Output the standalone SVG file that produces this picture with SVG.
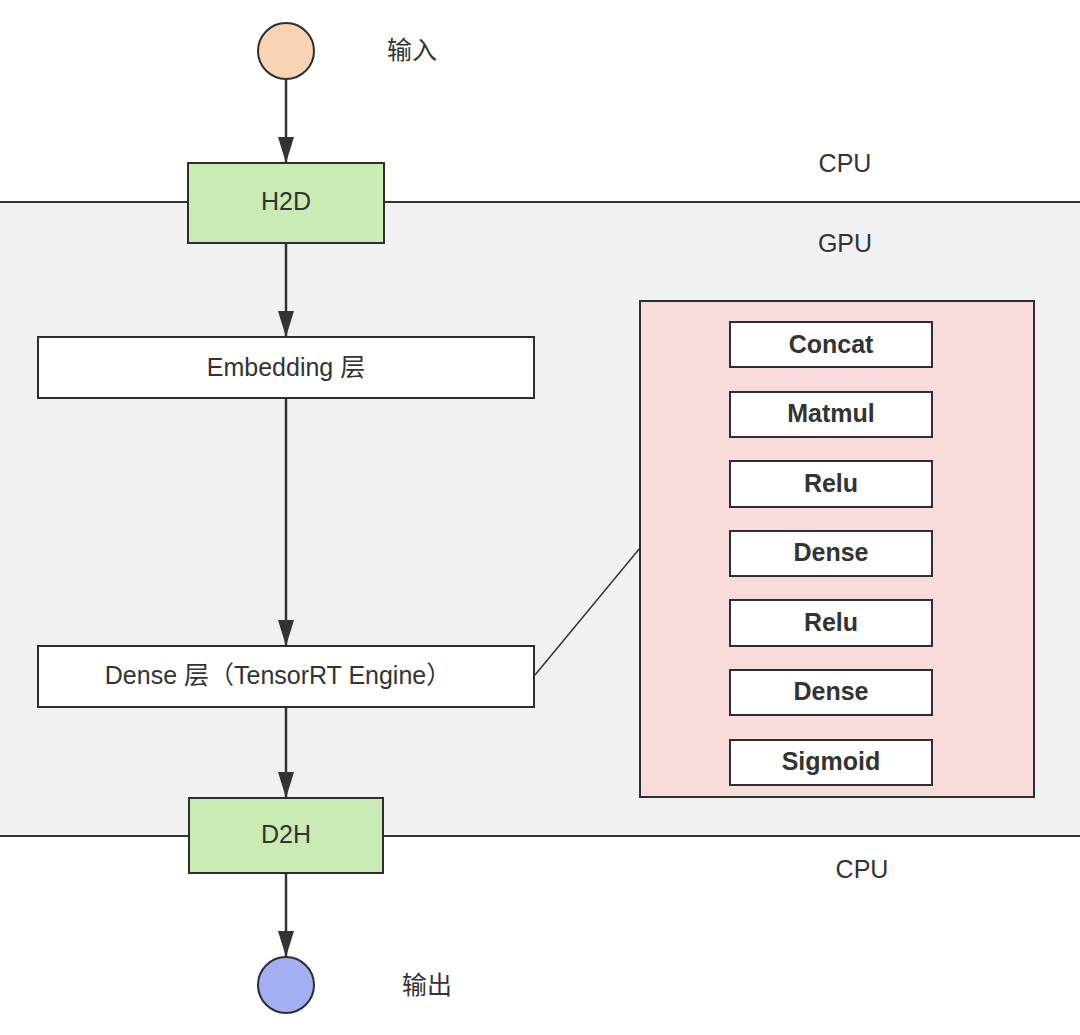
<svg xmlns="http://www.w3.org/2000/svg" width="1080" height="1035" viewBox="0 0 1080 1035">
<style>
.box{stroke:#2b2f33;stroke-width:2}
.t{font-family:"Liberation Sans",Arial,"Noto Sans CJK SC",sans-serif;font-size:25px;fill:#333;text-anchor:middle;dominant-baseline:central}
.b{font-weight:bold;font-size:25px}
.edge{stroke:#333;stroke-width:2.5;fill:none}
</style>
<defs>
<marker id="ah" viewBox="0 0 26 16" refX="26" refY="8" markerWidth="26" markerHeight="16" markerUnits="userSpaceOnUse" orient="auto">
<path d="M0,0 L26,8 L0,16 z" fill="#333"/>
</marker>
</defs>
<rect width="1080" height="1035" fill="#fff"/>
<g id="gpu-region">
<rect x="-5" y="202" width="1090" height="634" fill="#f1f1f1"/>
<line x1="0" y1="202" x2="1080" y2="202" stroke="#333" stroke-width="2"/>
<line x1="0" y1="836" x2="1080" y2="836" stroke="#333" stroke-width="2"/>
</g>
<g id="labels">
<text class="t" x="412" y="50">输入</text>
<text class="t" x="845" y="163">CPU</text>
<text class="t" x="845" y="243">GPU</text>
<text class="t" x="862" y="869">CPU</text>
<text class="t" x="427" y="985">输出</text>
</g>
<g id="connectors">
<line class="edge" x1="286" y1="79" x2="286" y2="163" marker-end="url(#ah)"/>
<line class="edge" x1="286" y1="243" x2="286" y2="337" marker-end="url(#ah)"/>
<line class="edge" x1="286" y1="398" x2="286" y2="646" marker-end="url(#ah)"/>
<line class="edge" x1="286" y1="707" x2="286" y2="798" marker-end="url(#ah)"/>
<line class="edge" x1="286" y1="873" x2="286" y2="957" marker-end="url(#ah)"/>
<line x1="535" y1="675" x2="640" y2="548" stroke="#333" stroke-width="1.5"/>
</g>
<g id="input"><circle class="box" cx="286" cy="51" r="28" fill="#f8d4b4"/></g>
<g id="h2d"><rect class="box" x="188" y="163" width="196" height="80" fill="#c9ecb4"/><text class="t" x="286" y="201">H2D</text></g>
<g id="embedding"><rect class="box" x="38" y="337" width="496" height="61" fill="#fff"/><text class="t" x="286" y="367">Embedding 层</text></g>
<g id="dense"><rect class="box" x="38" y="646" width="496" height="61" fill="#fff"/><text class="t" x="278" y="675">Dense 层（TensorRT Engine）</text></g>
<g id="d2h"><rect class="box" x="189" y="798" width="194" height="75" fill="#c9ecb4"/><text class="t" x="286" y="834">D2H</text></g>
<g id="output"><circle class="box" cx="286" cy="985" r="28" fill="#a4aef2"/></g>
<g id="trt-engine">
<rect class="box" x="640" y="301" width="394" height="496" fill="#f9dbda"/>
</g>
<g id="op-concat"><rect class="box" x="730" y="322" width="202" height="45" fill="#fff"/><text class="t b" x="831" y="344">Concat</text></g>
<g id="op-matmul"><rect class="box" x="730" y="392" width="202" height="45" fill="#fff"/><text class="t b" x="831" y="413">Matmul</text></g>
<g id="op-relu1"><rect class="box" x="730" y="461" width="202" height="46" fill="#fff"/><text class="t b" x="831" y="483">Relu</text></g>
<g id="op-dense1"><rect class="box" x="730" y="531" width="202" height="45" fill="#fff"/><text class="t b" x="831" y="552">Dense</text></g>
<g id="op-relu2"><rect class="box" x="730" y="600" width="202" height="46" fill="#fff"/><text class="t b" x="831" y="622">Relu</text></g>
<g id="op-dense2"><rect class="box" x="730" y="670" width="202" height="45" fill="#fff"/><text class="t b" x="831" y="691">Dense</text></g>
<g id="op-sigmoid"><rect class="box" x="730" y="740" width="202" height="45" fill="#fff"/><text class="t b" x="831" y="761">Sigmoid</text></g>
</svg>
